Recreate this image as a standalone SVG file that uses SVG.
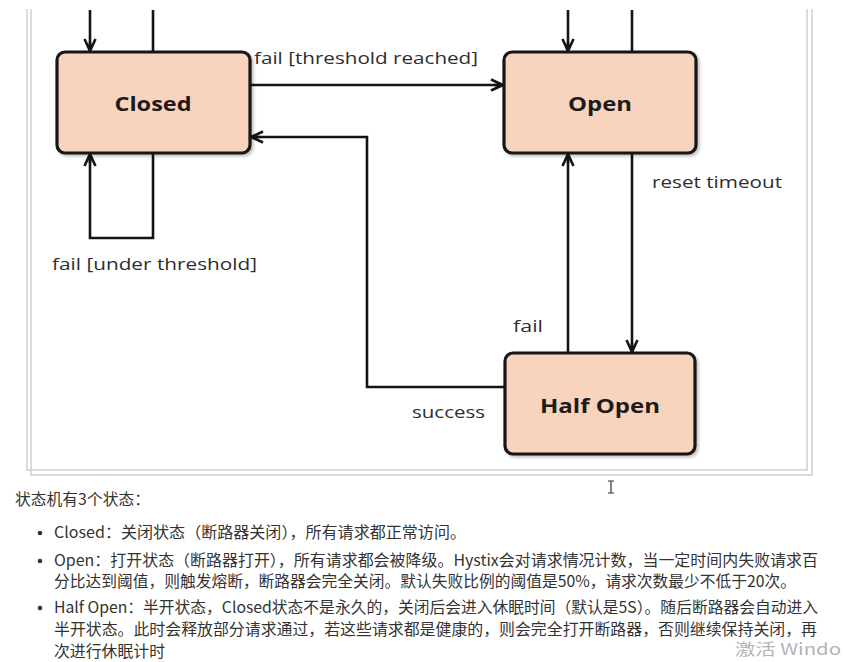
<svg xmlns="http://www.w3.org/2000/svg" width="846" height="662" viewBox="0 0 846 662">
<style>
.box{fill:#F8D4BF;stroke:#141414;stroke-width:3.2}
.title{font-family:"Open Sans","Noto Sans",sans-serif;font-weight:bold;font-size:20px;fill:#1e1a18;text-anchor:middle}
.lbl{font-family:"Open Sans","Noto Sans",sans-serif;font-size:17px;fill:#2e2e2e}
.edge{fill:none;stroke:#141414;stroke-width:2.6}
.txt{font-family:"Noto Sans CJK SC","Noto Sans",sans-serif;font-size:15.5px;fill:#333}
.frame{fill:none;stroke:#cfcfcf;stroke-width:1.5}
</style>
<defs>
<marker id="arr" viewBox="0 0 14 14" refX="13" refY="7" markerWidth="14" markerHeight="14" markerUnits="userSpaceOnUse" orient="auto">
<path d="M1,1.5 L13,7 L1,12.5 M13,7 L4,7" fill="none" stroke="#141414" stroke-width="2.6"/>
</marker>
<filter id="sh" x="-10%" y="-10%" width="130%" height="130%">
<feDropShadow dx="2" dy="2" stdDeviation="1.5" flood-color="#000" flood-opacity="0.25"/>
</filter>
</defs>
<rect width="846" height="662" fill="#fff"/>
<g id="frame">
<path class="frame" d="M27,9 V470 H807 V9"/>
<path class="frame" d="M31,9 V475 H812 V9" stroke="#dcdcdc"/>
</g>
<g id="connectors">
<path class="edge" d="M90,10 V51" marker-end="url(#arr)"/>
<path class="edge" d="M153,10 V52"/>
<path class="edge" d="M153,153 V238 H90 V154" marker-end="url(#arr)"/>
<path class="edge" d="M250,85 H503" marker-end="url(#arr)"/>
<path class="edge" d="M505,387 H367 V137 H251" marker-end="url(#arr)"/>
<path class="edge" d="M568,10 V51" marker-end="url(#arr)"/>
<path class="edge" d="M632,10 V52"/>
<path class="edge" d="M568,353 V154" marker-end="url(#arr)"/>
<path class="edge" d="M632,153 V352" marker-end="url(#arr)"/>
<text class="lbl" x="254" y="64" textLength="224" lengthAdjust="spacingAndGlyphs">fail [threshold reached]</text>
<text class="lbl" x="652" y="188" textLength="130" lengthAdjust="spacingAndGlyphs">reset timeout</text>
<text class="lbl" x="52" y="270" textLength="205" lengthAdjust="spacingAndGlyphs">fail [under threshold]</text>
<text class="lbl" x="513" y="332" textLength="30" lengthAdjust="spacingAndGlyphs">fail</text>
<text class="lbl" x="412" y="418" textLength="73" lengthAdjust="spacingAndGlyphs">success</text>
</g>
<g id="closed">
<rect class="box" x="57" y="52" width="193" height="101" rx="8" filter="url(#sh)"/>
<text class="title" x="153" y="111" textLength="77" lengthAdjust="spacingAndGlyphs">Closed</text>
</g>
<g id="open">
<rect class="box" x="504" y="52" width="192" height="101" rx="8" filter="url(#sh)"/>
<text class="title" x="600" y="111" textLength="64" lengthAdjust="spacingAndGlyphs">Open</text>
</g>
<g id="halfopen">
<rect class="box" x="505" y="353" width="190" height="101" rx="8" filter="url(#sh)"/>
<text class="title" x="600" y="413" textLength="120" lengthAdjust="spacingAndGlyphs">Half Open</text>
</g>
<g id="notes">
<text class="txt" x="15" y="505" textLength="135" lengthAdjust="spacingAndGlyphs">状态机有3个状态：</text>
<circle cx="40" cy="533" r="2.3" fill="#333"/>
<circle cx="40" cy="561" r="2.3" fill="#333"/>
<circle cx="40" cy="608" r="2.3" fill="#333"/>
<text class="txt" x="54" y="538" textLength="412" lengthAdjust="spacingAndGlyphs">Closed：关闭状态（断路器关闭），所有请求都正常访问。</text>
<text class="txt" x="54" y="566" textLength="764" lengthAdjust="spacingAndGlyphs">Open：打开状态（断路器打开），所有请求都会被降级。Hystix会对请求情况计数，当一定时间内失败请求百</text>
<text class="txt" x="54" y="587" textLength="742" lengthAdjust="spacingAndGlyphs">分比达到阈值，则触发熔断，断路器会完全关闭。默认失败比例的阈值是50%，请求次数最少不低于20次。</text>
<text class="txt" x="54" y="613" textLength="764" lengthAdjust="spacingAndGlyphs">Half Open：半开状态，Closed状态不是永久的，关闭后会进入休眠时间（默认是5S）。随后断路器会自动进入</text>
<text class="txt" x="54" y="635" textLength="763" lengthAdjust="spacingAndGlyphs">半开状态。此时会释放部分请求通过，若这些请求都是健康的，则会完全打开断路器，否则继续保持关闭，再</text>
<text class="txt" x="54" y="657" textLength="111" lengthAdjust="spacingAndGlyphs">次进行休眠计时</text>
</g>
<g id="cursor" stroke="#333" stroke-width="1.2" fill="none">
<path d="M611,481 V493 M608,481 H614 M608,493 H614"/>
</g>
<text x="735" y="655" font-family="Noto Sans CJK SC,Noto Sans,sans-serif" font-size="16" fill="#b4b4b4" textLength="106" lengthAdjust="spacingAndGlyphs">激活 Windo</text>
</svg>
